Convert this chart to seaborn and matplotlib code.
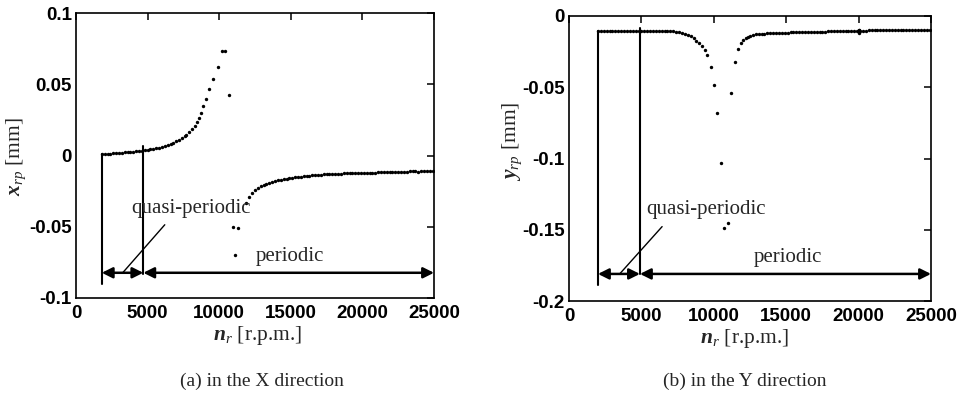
import numpy as np
import pandas as pd
import matplotlib
matplotlib.use("Agg")
import matplotlib.pyplot as plt
import seaborn as sns

# ---------------- data ----------------
# (a) X direction: lower-speed branch (up to resonance)
x_upper_rpm = [1800, 2000, 2200, 2400, 2600, 2800, 3000, 3200, 3400, 3600, 3800, 4000,
               4200, 4400, 4600, 4800, 5000, 5200, 5400, 5600, 5800, 6000, 6200, 6400,
               6600, 6800, 7000, 7200, 7400, 7600, 7700, 7900, 8100, 8300, 8450, 8600,
               8750, 8900, 9050, 9300, 9600, 9900, 10200, 10400, 10650]
x_upper_val = [0.0012, 0.0012, 0.0013, 0.0014, 0.0015, 0.0017, 0.0018, 0.0020, 0.0022, 0.0024,
               0.0026, 0.0028, 0.0030, 0.0032, 0.0034, 0.0037, 0.0040, 0.0043, 0.0047, 0.0051,
               0.0056, 0.0062, 0.0068, 0.0075, 0.0083, 0.0091, 0.0100, 0.0110, 0.0122, 0.0137,
               0.0145, 0.0164, 0.0185, 0.0210, 0.0234, 0.0265, 0.0300, 0.0345, 0.0400, 0.0468,
               0.0540, 0.0624, 0.0736, 0.0736, 0.0428]
# (a) X direction: higher-speed branch
x_lower_rpm = [10950, 11100, 11300, 11900, 12100, 12300, 12500, 12700, 12900, 13100, 13300,
               13500, 13700, 13900, 14100, 14300, 14500, 14700, 14900, 15100, 15300, 15500,
               15700, 15900, 16100, 16300, 16500, 16700, 16900, 17100, 17300, 17500, 17700,
               17900, 18100, 18300, 18500, 18700, 18900, 19100, 19300, 19500, 19700, 19900,
               20100, 20300, 20500, 20700, 20900, 21100, 21300, 21500, 21700, 21900, 22100,
               22300, 22500, 22700, 22900, 23100, 23300, 23500, 23700, 23900, 24100, 24300,
               24500, 24700, 24900]
x_lower_val = [-0.0502, -0.0700, -0.0510, -0.0330, -0.0290, -0.0262, -0.0243, -0.0228, -0.0215,
               -0.0205, -0.0197, -0.0190, -0.0184, -0.0179, -0.0175, -0.0171, -0.0167, -0.0163,
               -0.0159, -0.0156, -0.0153, -0.0150, -0.0148, -0.0146, -0.0143, -0.0141, -0.0139,
               -0.0137, -0.0136, -0.0134, -0.0133, -0.0132, -0.0131, -0.0130, -0.0129, -0.0128,
               -0.0127, -0.0126, -0.0126, -0.0125, -0.0124, -0.0124, -0.0123, -0.0122, -0.0122,
               -0.0121, -0.0121, -0.0120, -0.0120, -0.0119, -0.0118, -0.0118, -0.0117, -0.0117,
               -0.0116, -0.0116, -0.0115, -0.0115, -0.0114, -0.0113, -0.0112, -0.0111, -0.0112,
               -0.0113, -0.0112, -0.0112, -0.0111, -0.0111, -0.0110]

# (b) Y direction
y_rpm = [2000, 2200, 2400, 2600, 2800, 3000, 3200, 3400, 3600, 3800, 4000, 4200, 4400, 4600,
         4800, 5000, 5200, 5400, 5600, 5800, 6000, 6200, 6400, 6600, 6800, 7000, 7200, 7400,
         7600, 7800, 8000, 8200, 8400, 8600, 8800, 9000, 9200, 9400, 9550, 9780, 10010, 10240,
         10490, 10730, 10950, 11160, 11440, 11650, 11860, 12050, 12200, 12350, 12500, 12700,
         12900, 13100, 13300, 13500, 13700, 13900, 14100, 14300, 14500, 14700, 14900, 15100,
         15300, 15500, 15700, 15900, 16100, 16300, 16500, 16700, 16900, 17100, 17300, 17500,
         17700, 17900, 18100, 18300, 18500, 18700, 18900, 19100, 19300, 19500, 19700, 19900,
         20000, 20000, 20000, 20000, 20000, 20100, 20300, 20500, 20700, 20900, 21100, 21300,
         21500, 21700, 21900, 22100, 22300, 22500, 22700, 22900, 23100, 23300, 23500, 23700,
         23900, 24100, 24300, 24500, 24700, 24900]
y_val = [-0.0105, -0.0106, -0.0105, -0.0104, -0.0105, -0.0106, -0.0105, -0.0104, -0.0105,
         -0.0105, -0.0106, -0.0105, -0.0104, -0.0105, -0.0105, -0.0106, -0.0105, -0.0105,
         -0.0104, -0.0105, -0.0106, -0.0105, -0.0105, -0.0106, -0.0105, -0.0106, -0.0107,
         -0.0110, -0.0114, -0.0119, -0.0125, -0.0132, -0.0141, -0.0155, -0.0172, -0.0190,
         -0.0210, -0.0240, -0.0273, -0.0355, -0.0486, -0.0684, -0.1029, -0.1490, -0.1454,
         -0.0542, -0.0320, -0.0234, -0.0192, -0.0168, -0.0155, -0.0145, -0.0138, -0.0132,
         -0.0128, -0.0126, -0.0124, -0.0123, -0.0122, -0.0121, -0.0120, -0.0119, -0.0118,
         -0.0117, -0.0117, -0.0116, -0.0115, -0.0115, -0.0114, -0.0113, -0.0113, -0.0112,
         -0.0112, -0.0111, -0.0111, -0.0110, -0.0110, -0.0109, -0.0109, -0.0108, -0.0108,
         -0.0107, -0.0107, -0.0106, -0.0106, -0.0105, -0.0105, -0.0104, -0.0104, -0.0103,
         -0.0096, -0.0100, -0.0108, -0.0114, -0.0120, -0.0103, -0.0102, -0.0102, -0.0101,
         -0.0101, -0.0101, -0.0100, -0.0100, -0.0100, -0.0099, -0.0100, -0.0099, -0.0099,
         -0.0099, -0.0098, -0.0099, -0.0098, -0.0098, -0.0099, -0.0098, -0.0098, -0.0098,
         -0.0097, -0.0098, -0.0098]

# regime boundaries [rpm]
x_bounds = [1800, 4700, 25000]
y_bounds = [2000, 4900, 25000]

xticks = [0, 5000, 10000, 15000, 20000, 25000]
xticklabels = ["0", "5000", "10000", "15000", "20000", "25000"]
a_yticks = [-0.1, -0.05, 0, 0.05, 0.1]
a_yticklabels = ["-0.1", "-0.05", "0", "0.05", "0.1"]
b_yticks = [-0.2, -0.15, -0.1, -0.05, 0]
b_yticklabels = ["-0.2", "-0.15", "-0.1", "-0.05", "0"]

df_a = pd.DataFrame({"rpm": x_upper_rpm + x_lower_rpm, "val": x_upper_val + x_lower_val})
df_b = pd.DataFrame({"rpm": y_rpm, "val": y_val})

# ---------------- style ----------------
sns.set_style("white")
plt.rcParams["font.family"] = ["Liberation Serif", "DejaVu Serif"]
plt.rcParams["mathtext.fontset"] = "custom"
plt.rcParams["mathtext.rm"] = "Liberation Serif"
plt.rcParams["mathtext.it"] = "Liberation Serif:italic"
plt.rcParams["mathtext.bf"] = "Liberation Serif:italic:bold"

fig = plt.figure(figsize=(9.59, 3.98), dpi=100)
ax_a = fig.add_axes([76 / 959, 1 - 298 / 398, 358 / 959, 285 / 398])
ax_b = fig.add_axes([569 / 959, 1 - 301 / 398, 362 / 959, 285 / 398])

tick_font = dict(family="Liberation Sans", weight="bold", size=13.5)


def style_axes(ax, yticks, yticklabels, ylim):
    ax.set_xlim(0, 25000)
    ax.set_ylim(*ylim)
    ax.set_xticks(xticks)
    ax.set_xticklabels(xticklabels, fontdict=tick_font)
    ax.set_yticks(yticks)
    ax.set_yticklabels(yticklabels, fontdict=tick_font)
    ax.tick_params(direction="in", length=5, width=1.1, top=True, right=True,
                   colors="black", labelcolor="black")
    ax.tick_params(axis="x", pad=5)
    ax.tick_params(axis="y", pad=3)
    for sp in ax.spines.values():
        sp.set_color("black")
        sp.set_linewidth(1.2)
        sp.set_visible(True)


def draw_regimes(ax, bounds, top_vals, bot_vals, arrow_y, diag, quasi_xy, per_xy):
    for b, t, bt in zip(bounds[:2], top_vals, bot_vals):
        ax.plot([b, b], [bt, t], color="black", lw=1.5)
    ap = dict(arrowstyle="<|-|>", color="black", lw=1.8, mutation_scale=16,
              shrinkA=0, shrinkB=0)
    ax.annotate("", xy=(bounds[0], arrow_y), xytext=(bounds[1], arrow_y), arrowprops=ap)
    ax.annotate("", xy=(bounds[1], arrow_y), xytext=(bounds[2], arrow_y), arrowprops=ap)
    ax.plot(diag[0], diag[1], color="black", lw=1.0)
    ax.text(quasi_xy[0], quasi_xy[1], "quasi-periodic", fontsize=15, ha="left", va="center")
    ax.text(per_xy[0], per_xy[1], "periodic", fontsize=15, ha="center", va="center")


# (a)
sns.scatterplot(data=df_a, x="rpm", y="val", ax=ax_a, color="black", s=6, marker="o",
                linewidth=0, legend=False)
style_axes(ax_a, a_yticks, a_yticklabels, (-0.1, 0.1))
draw_regimes(ax_a, x_bounds, [0.0012, 0.007], [-0.09, -0.0835], -0.0823,
             ([3260, 6200], [-0.0823, -0.0486]), (3850, -0.0374), (14930, -0.0708))

# (b)
sns.scatterplot(data=df_b, x="rpm", y="val", ax=ax_b, color="black", s=6, marker="o",
                linewidth=0, legend=False)
style_axes(ax_b, b_yticks, b_yticklabels, (-0.2, 0))
draw_regimes(ax_b, y_bounds, [-0.0105, -0.0087], [-0.1886, -0.181], -0.181,
             ([3500, 6430], [-0.181, -0.1478]), (5330, -0.136), (15100, -0.1695))

ax_a.set_ylabel(r"$\mathbf{x}_{rp}$ [mm]", fontsize=15.5)
ax_b.set_ylabel(r"$\mathbf{y}_{rp}$ [mm]", fontsize=15.5)
ax_a.yaxis.set_label_coords(-0.134, 0.495)
ax_b.yaxis.set_label_coords(-0.124, 0.561)
ax_a.set_xlabel(r"$\mathbf{n}_{r}$ [r.p.m.]", fontsize=15.5)
ax_b.set_xlabel(r"$\mathbf{n}_{r}$ [r.p.m.]", fontsize=15.5)
ax_a.xaxis.set_label_coords(0.506, -0.092)
ax_b.xaxis.set_label_coords(0.486, -0.092)

fig.text(262 / 959, 1 - 381 / 398, "(a) in the X direction", fontsize=14, ha="center", va="center")
fig.text(745 / 959, 1 - 381 / 398, "(b) in the Y direction", fontsize=14, ha="center", va="center")

fig.savefig("out.png", dpi=100)
